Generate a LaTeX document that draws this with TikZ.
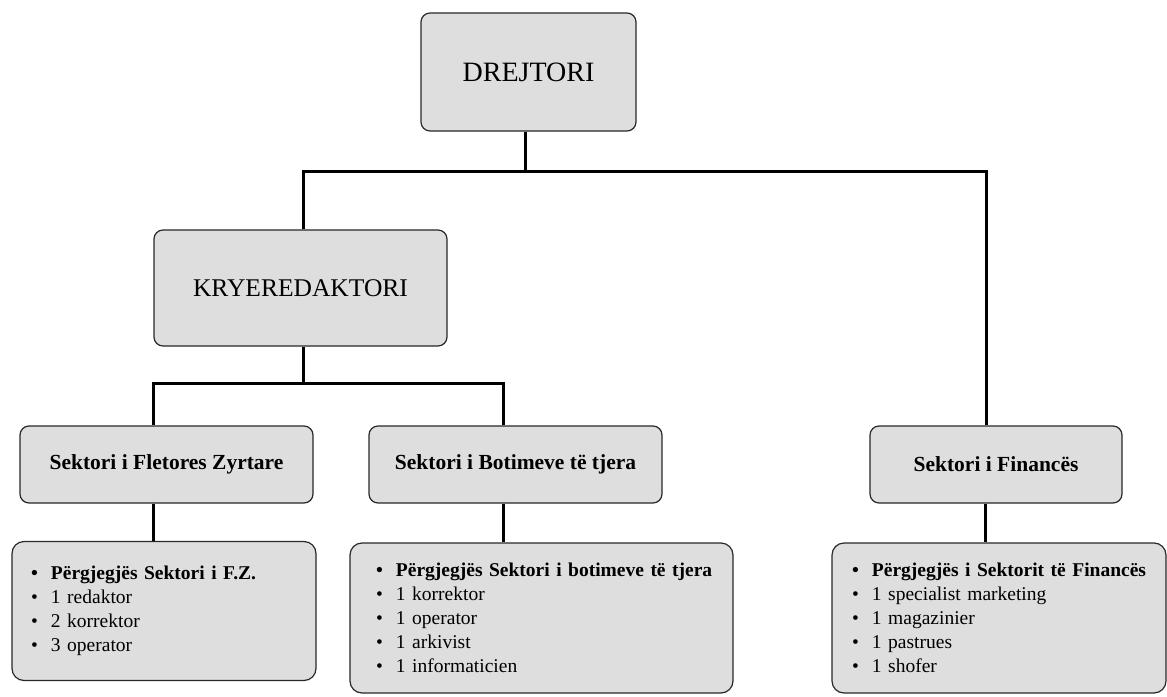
\documentclass[tikz,border=0pt]{standalone}
\usepackage{fontspec}
\setmainfont{Liberation Serif}
\definecolor{boxfill}{RGB}{222,222,222}
\definecolor{boxline}{RGB}{40,40,40}
\newcommand{\itm}[1]{\mbox{\makebox[20pt][l]{\textbullet}#1}}
\tikzset{
  box/.style={draw=boxline, line width=1.2pt, fill=boxfill, rounded corners=9pt, inner sep=0pt, align=center},
  listbox/.style={draw=boxline, line width=1.2pt, fill=boxfill, rounded corners=12pt, inner ysep=0pt, align=left, font=\fontsize{19.5}{24}\selectfont},
  conn/.style={line width=3pt, black},
  secfont/.style={font=\bfseries\fontsize{21.5}{24}\selectfont}
}
\begin{document}
\begin{tikzpicture}[x=1pt,y=-1pt]
\useasboundingbox[fill=white] (0,0) rectangle (1167,696);
% boxes
\node[box, minimum width=215pt, minimum height=118pt, font=\fontsize{28}{30}\selectfont] (drej) at (528.5,72) {DREJTORI};
\node[box, minimum width=293pt, minimum height=116pt, font=\fontsize{25.5}{28}\selectfont] (kry) at (300.5,288) {KRYEREDAKTORI};
\node[box, secfont, minimum width=293pt, minimum height=77pt] (fz) at (166.5,464.5) {Sektori i Fletores Zyrtare};
\node[box, secfont, minimum width=293pt, minimum height=77pt] (bot) at (515.5,464.5) {Sektori i Botimeve të tjera};
\node[box, secfont, minimum width=252pt, minimum height=77pt] (fin) at (996,464.5) {Sektori i Financës};
% lists
\node[listbox, inner xsep=19pt, text width=266pt, minimum height=139pt] (fzl) at (164,611)
  {\textbf{\itm{Përgjegjës Sektori i F.Z.}}\\\itm{1 redaktor}\\\itm{2 korrektor}\\\itm{3 operator}};
\node[listbox, inner xsep=26pt, text width=331pt, minimum height=150pt] (botl) at (541.5,618)
  {\textbf{\itm{Përgjegjës Sektori i botimeve të tjera}}\\\itm{1 korrektor}\\\itm{1 operator}\\\itm{1 arkivist}\\\itm{1 informaticien}};
\node[listbox, inner xsep=20pt, text width=294pt, minimum height=150pt] (finl) at (999,618)
  {\textbf{\itm{Përgjegjës i Sektorit të Financës}}\\\itm{1 specialist marketing}\\\itm{1 magazinier}\\\itm{1 pastrues}\\\itm{1 shofer}};
% connectors
\coordinate (b1) at (525,171);
\coordinate (b2) at (303,383);
\draw[conn] ([xshift=-3.5pt]drej.south) -- (b1);
\draw[conn] ([xshift=2.5pt]kry.north) |- (b1) -| ([xshift=-10pt]fin.north);
\draw[conn] ([xshift=2.5pt]kry.south) -- (b2);
\draw[conn] ([xshift=-13.5pt]fz.north) |- (b2) -| ([xshift=-12.5pt]bot.north);
\draw[conn] ([xshift=-13.5pt]fz.south) -- ([xshift=-13.5pt]fz.south |- fzl.north);
\draw[conn] ([xshift=-12.5pt]bot.south) -- ([xshift=-12.5pt]bot.south |- botl.north);
\draw[conn] ([xshift=-11pt]fin.south) -- ([xshift=-11pt]fin.south |- finl.north);
\end{tikzpicture}
\end{document}
